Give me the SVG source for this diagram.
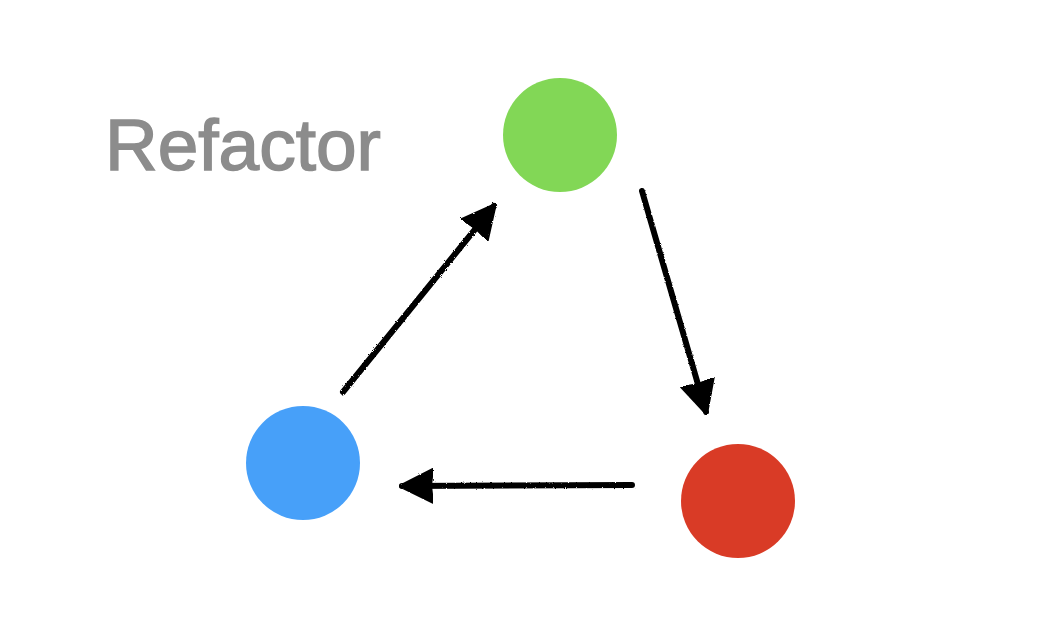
<svg xmlns="http://www.w3.org/2000/svg" width="1060" height="622" viewBox="0 0 1060 622">
  <style>
    .conn { stroke: #000; stroke-width: 6; stroke-linecap: round; fill: none; marker-end: url(#head); }
    .title { font-family: "Liberation Sans", "DejaVu Sans", sans-serif; font-size: 73px; fill: #8c8c8c; stroke: #8c8c8c; stroke-width: 1.5; }
  </style>
  <defs>
    <filter id="rough" filterUnits="userSpaceOnUse" x="0" y="0" width="1060" height="622">
      <feTurbulence type="fractalNoise" baseFrequency="0.9" numOctaves="2" result="n"/>
      <feDisplacementMap in="SourceGraphic" in2="n" scale="2.5"/>
    </filter>
    <marker id="head" viewBox="0 0 34 36" refX="31" refY="18" markerWidth="34" markerHeight="36" markerUnits="userSpaceOnUse" orient="auto">
      <path d="M0,1 L34,18 L0,35 L2,18 Z" fill="#000" stroke="#000" stroke-width="2" stroke-linejoin="round"/>
    </marker>
  </defs>
  <rect width="1060" height="622" fill="#fff"/>
  <g id="title"><text class="title" x="105" y="170">Refactor</text></g>
  <g id="node-green"><circle cx="560" cy="135" r="57" fill="#82d756"/></g>
  <g id="node-blue"><circle cx="303" cy="463" r="57" fill="#47a0f9"/></g>
  <g id="node-red"><circle cx="738" cy="501" r="57" fill="#d93b26"/></g>
  <g id="connectors" filter="url(#rough)">
    <line class="conn" x1="343" y1="392" x2="494" y2="206"/>
    <line class="conn" x1="642" y1="191" x2="706" y2="412"/>
    <line class="conn" x1="632" y1="485" x2="402" y2="486"/>
  </g>
</svg>
